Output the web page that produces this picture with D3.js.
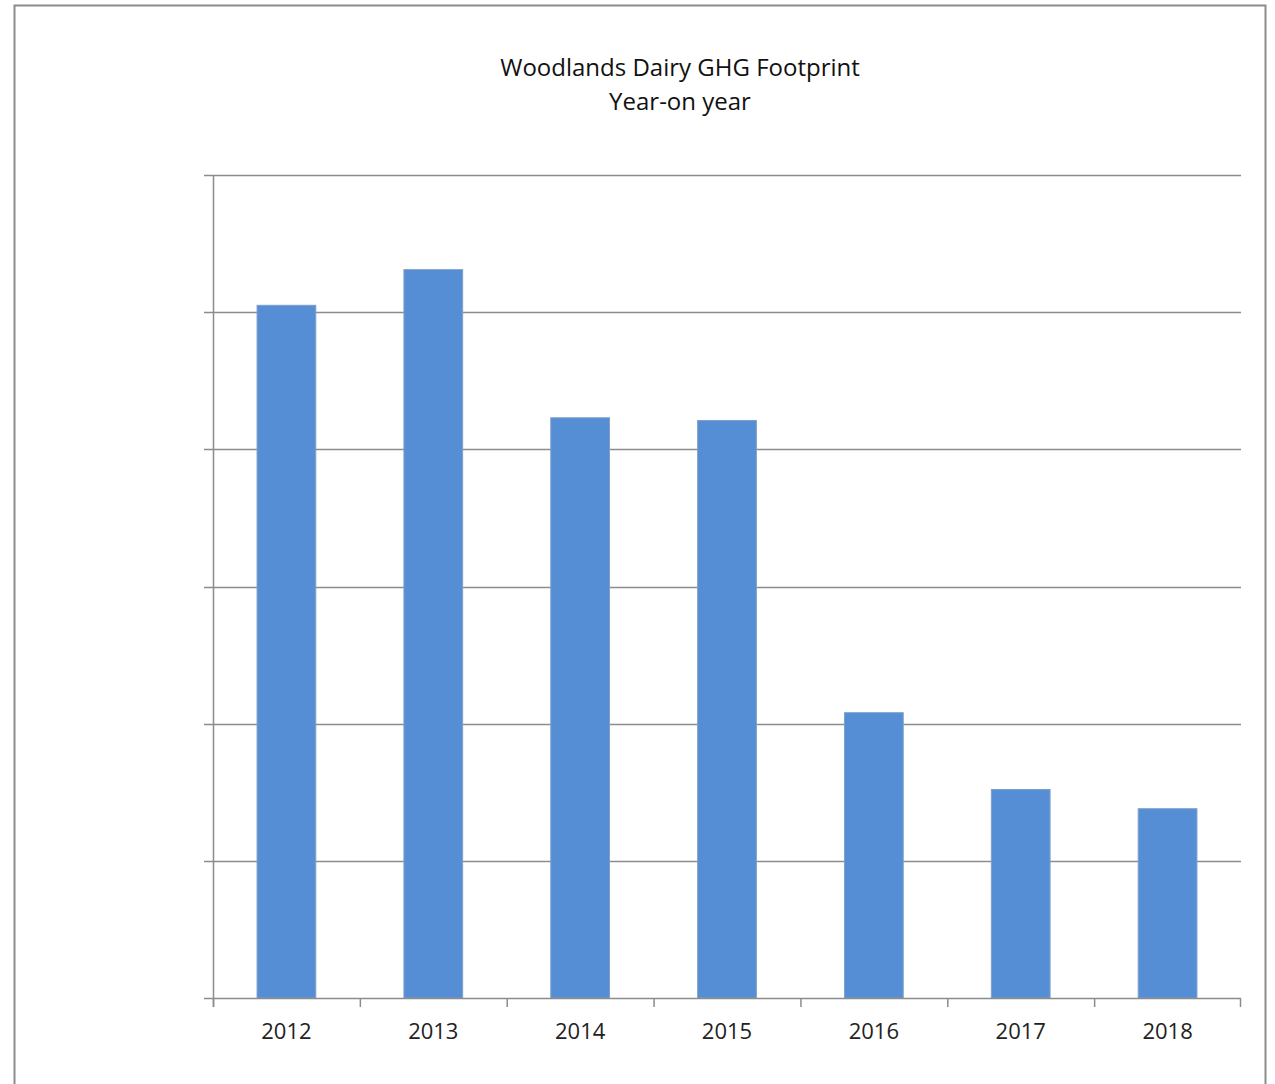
<!DOCTYPE html>
<html>
<head>
<meta charset="utf-8">
<script src="https://cdn.jsdelivr.net/npm/d3@7"></script>
<style>
  body { margin: 0; background: #fff; }
  svg { display: block; font-family: "Open Sans", "Noto Sans", sans-serif; }
</style>
</head>
<body>
<svg id="drawing_region"></svg>
<script>
const years = ['2012', '2013', '2014', '2015', '2016', '2017', '2018'];
const footprint = [5.05, 5.31, 4.23, 4.21, 2.08, 1.52, 1.38];
const yTicks = [0, 1, 2, 3, 4, 5, 6];
const titleLines = ['Woodlands Dairy GHG Footprint', 'Year-on year'];

const config = {
    width: 1275,
    height: 1084,
    margin: {top: 175, right: 34, bottom: 86, left: 213}
};

const svg = d3.select('#drawing_region')
    .attr('width', config.width)
    .attr('height', config.height);

// outer frame
svg.append('rect')
    .attr('x', 14.5).attr('y', 5.5)
    .attr('width', 1251).attr('height', 1100)
    .attr('fill', 'none')
    .attr('stroke', '#8c8c8c')
    .attr('stroke-width', 2);

const inner_width = config.width - config.margin.left - config.margin.right;
const inner_height = config.height - config.margin.top - config.margin.bottom;

const chart = svg.append('g')
    .attr('transform', `translate(${config.margin.left}, ${config.margin.top})`);

const xband = d3.scaleBand()
    .domain(years)
    .range([0, inner_width]);

const yscale = d3.scaleLinear()
    .domain([0, 6])
    .range([inner_height, 0]);

// gridlines with tick stubs on the left
chart.append('g')
    .selectAll('line')
    .data(yTicks.slice(1))
    .join('line')
    .attr('x1', -9)
    .attr('x2', inner_width)
    .attr('y1', d => Math.round(yscale(d)) + 0.5)
    .attr('y2', d => Math.round(yscale(d)) + 0.5)
    .attr('stroke', '#8c8c8c')
    .attr('stroke-width', 1.5);

// bars (gap width 150%)
const barW = xband.bandwidth() / 2.5;
chart.selectAll('rect.bar')
    .data(years)
    .join('rect')
    .attr('class', 'bar')
    .attr('x', d => xband(d) + (xband.bandwidth() - barW) / 2)
    .attr('y', (d, i) => yscale(footprint[i]))
    .attr('width', barW)
    .attr('height', (d, i) => inner_height - yscale(footprint[i]))
    .attr('fill', '#558ed5')
    .attr('stroke', '#7f9fc9')
    .attr('stroke-width', 1);

// y axis line
chart.append('line')
    .attr('x1', 0.5).attr('x2', 0.5)
    .attr('y1', 0).attr('y2', inner_height + 9)
    .attr('stroke', '#8c8c8c')
    .attr('stroke-width', 1.5);

// x axis
const xaxis = d3.axisBottom(xband)
    .tickSize(0)
    .tickPadding(25);

const xaxis_group = chart.append('g')
    .attr('transform', `translate(0, ${inner_height})`)
    .call(xaxis);

xaxis_group.select('.domain')
    .attr('d', `M-9,0.5H${inner_width}`)
    .attr('stroke', '#8c8c8c')
    .attr('stroke-width', 1.5);

xaxis_group.selectAll('text')
    .attr('font-size', 22)
    .attr('fill', '#222')
    .attr('font-family', '"Open Sans", "Noto Sans", sans-serif');

// category boundary ticks
chart.append('g')
    .selectAll('line')
    .data(years.concat(['end']))
    .join('line')
    .attr('x1', (d, i) => i < years.length ? xband(d) + 0.5 : inner_width - 0.5)
    .attr('x2', (d, i) => i < years.length ? xband(d) + 0.5 : inner_width - 0.5)
    .attr('y1', inner_height)
    .attr('y2', inner_height + 9)
    .attr('stroke', '#8c8c8c')
    .attr('stroke-width', 1.5);

// title
svg.append('g')
    .selectAll('text')
    .data(titleLines)
    .join('text')
    .attr('x', 680)
    .attr('y', (d, i) => 76 + i * 34)
    .attr('text-anchor', 'middle')
    .attr('font-size', 24)
    .attr('fill', '#111')
    .text(d => d);
</script>
</body>
</html>
